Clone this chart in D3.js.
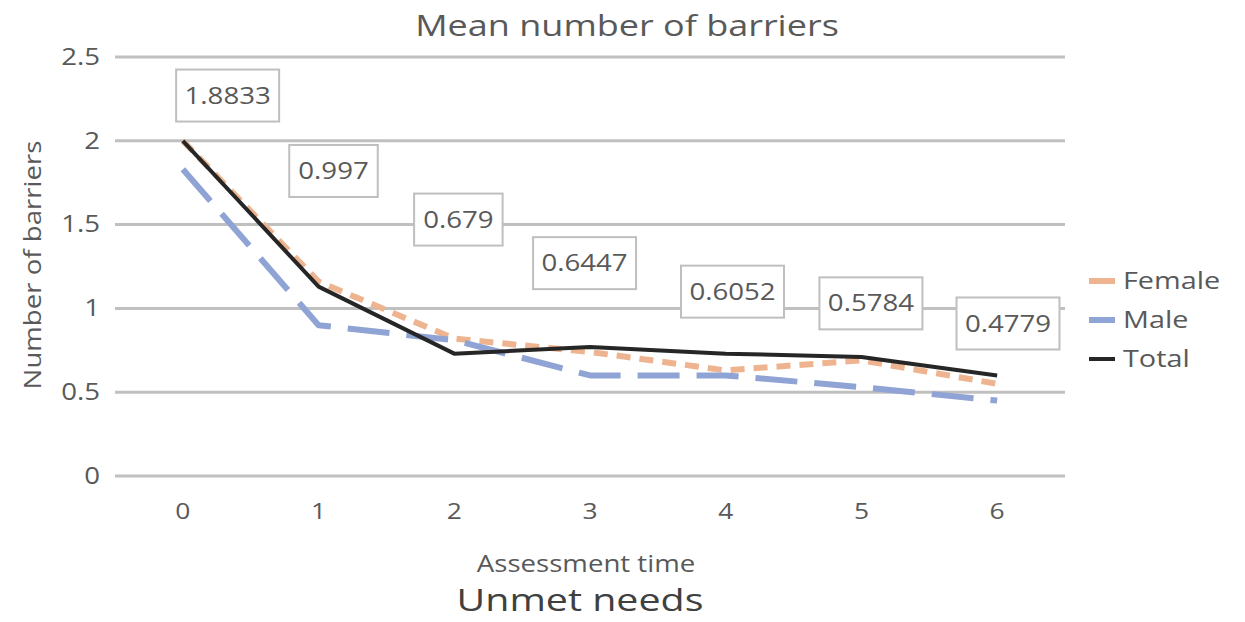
<!DOCTYPE html>
<html>
<head>
<meta charset="utf-8">
<script src="https://cdn.jsdelivr.net/npm/d3@7"></script>
<style>
  body { margin: 0; background: #fff; }
  text { font-family: "Open Sans", "Noto Sans", sans-serif; }
</style>
</head>
<body>
<div id="chart"></div>
<script>
// data
const times = [0, 1, 2, 3, 4, 5, 6];
const female = [2.0, 1.16, 0.82, 0.74, 0.63, 0.69, 0.55];
const male = [1.83, 0.9, 0.81, 0.6, 0.6, 0.53, 0.45];
const total = [2.0, 1.13, 0.73, 0.77, 0.73, 0.71, 0.6];
const labelValues = ["1.8833", "0.997", "0.679", "0.6447", "0.6052", "0.5784", "0.4779"];
const yTicks = [0, 0.5, 1, 1.5, 2, 2.5];

// where the value boxes sit, in data units (time, barriers)
const labelSpots = [[0.33, 2.27], [1.11, 1.82], [2.03, 1.53], [2.96, 1.27], [4.05, 1.1], [5.07, 1.03], [6.08, 0.91]];

const W = 1245, H = 622;
const plotLeft = 115, plotRight = 1065, plotTop = 57, plotBottom = 476;

// the source picture is a bit wider than tall, stretch texts to match
const stretch = function(sel, k) {
  sel.each(function() {
    const w = this.getComputedTextLength();
    d3.select(this).attr("textLength", w * k).attr("lengthAdjust", "spacingAndGlyphs");
  });
};

const svg = d3.select("#chart").append("svg")
  .attr("width", W).attr("height", H);

const x = d3.scaleBand().domain(times).range([plotLeft, plotRight]);
const xc = d => x(d) + x.bandwidth() / 2;
const xLin = d3.scaleLinear().domain([0, 6]).range([xc(0), xc(6)]);
const y = d3.scaleLinear().domain([0, 2.5]).range([plotBottom, plotTop]);

// gridlines
svg.append("g").selectAll("line").data(yTicks).enter().append("line")
  .attr("x1", plotLeft).attr("x2", plotRight)
  .attr("y1", d => y(d)).attr("y2", d => y(d))
  .attr("stroke", "#c0c0c0").attr("stroke-width", 3);

// y axis ticks
const yAxis = svg.append("g").attr("transform", "translate(" + plotLeft + ",0)")
  .call(d3.axisLeft(y).tickValues(yTicks).tickSize(0).tickPadding(15).tickFormat(d => d));
yAxis.select(".domain").remove();
yAxis.selectAll("text").attr("font-size", 23).attr("fill", "#595959")
  .attr("font-family", "Open Sans, sans-serif").call(stretch, 1.2);

// x axis ticks
const xAxis = svg.append("g").attr("transform", "translate(0," + plotBottom + ")")
  .call(d3.axisBottom(x).tickSize(0).tickPadding(27));
xAxis.select(".domain").remove();
xAxis.selectAll("text").attr("font-size", 22).attr("fill", "#595959")
  .attr("font-family", "Open Sans, sans-serif").call(stretch, 1.2);

// lines
const line = d3.line().x((d, i) => xc(times[i])).y(d => y(d));

const series = [
  { name: "Female", values: female, color: "#eeb48f", dash: "14,9", width: 6 },
  { name: "Male", values: male, color: "#8fa3d4", dash: "42,17", width: 6 },
  { name: "Total", values: total, color: "#262626", dash: null, width: 4 }
];

series.forEach(s => {
  svg.append("path")
    .datum(s.values)
    .attr("d", line)
    .attr("fill", "none")
    .attr("stroke", s.color)
    .attr("stroke-width", s.width)
    .attr("stroke-dasharray", s.dash)
    .attr("stroke-linejoin", "round");
});

// value boxes
const boxes = svg.append("g").selectAll("g").data(labelValues).enter().append("g")
  .attr("transform", (d, i) => "translate(" + xLin(labelSpots[i][0]) + "," + y(labelSpots[i][1]) + ")");
boxes.append("rect")
  .attr("x", d => -(d.length * 14.5 + 16) / 2)
  .attr("y", -26)
  .attr("width", d => d.length * 14.5 + 16)
  .attr("height", 52)
  .attr("fill", "#fff")
  .attr("stroke", "#bfbfbf")
  .attr("stroke-width", 2);
boxes.append("text")
  .attr("text-anchor", "middle")
  .attr("dy", "0.35em")
  .attr("font-size", 23)
  .attr("fill", "#595959")
  .text(d => d)
  .call(stretch, 1.2);

// titles
svg.append("text").attr("x", 627).attr("y", 36).attr("text-anchor", "middle")
  .attr("font-size", 30).attr("fill", "#595959").text("Mean number of barriers").call(stretch, 1.2);
svg.append("text").attr("transform", "translate(41,265) rotate(-90)").attr("text-anchor", "middle")
  .attr("font-size", 23).attr("fill", "#595959").text("Number of barriers").call(stretch, 1.2);
svg.append("text").attr("x", 586).attr("y", 572).attr("text-anchor", "middle")
  .attr("font-size", 23).attr("fill", "#595959").text("Assessment time").call(stretch, 1.2);
svg.append("text").attr("x", 580).attr("y", 611).attr("text-anchor", "middle")
  .attr("font-size", 31).attr("fill", "#404040").text("Unmet needs").call(stretch, 1.27);

// legend
const legend = svg.append("g").selectAll("g").data(series).enter().append("g")
  .attr("transform", (d, i) => "translate(1089," + (281 + i * 39) + ")");
legend.append("line")
  .attr("x1", 0).attr("x2", 26).attr("y1", 0).attr("y2", 0)
  .attr("stroke", d => d.color).attr("stroke-width", d => d.width);
legend.append("text")
  .attr("x", 34).attr("dy", "0.35em")
  .attr("font-size", 24).attr("fill", "#595959")
  .text(d => d.name)
  .call(stretch, 1.2);
</script>
</body>
</html>
